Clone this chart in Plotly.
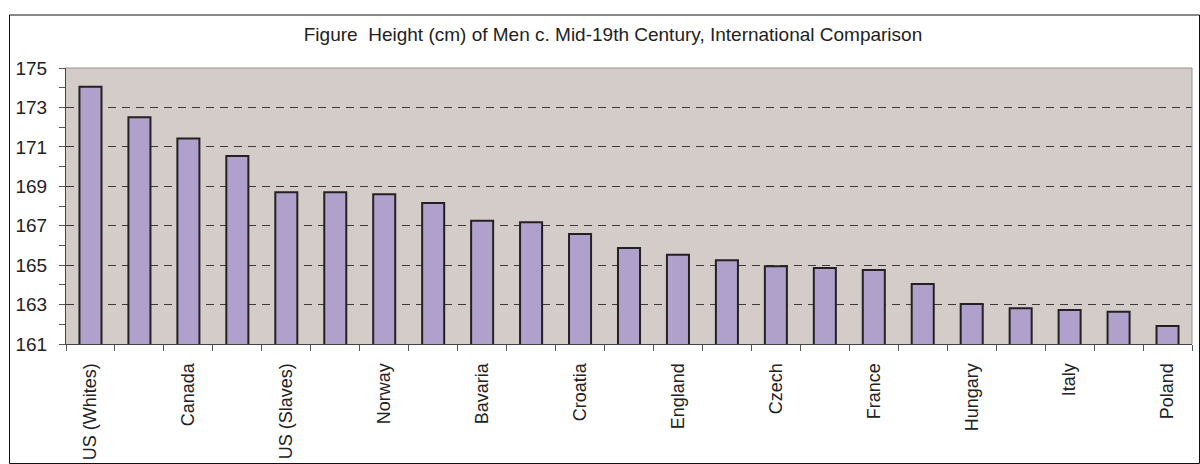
import plotly.graph_objects as go

categories = ["US (Whites)", "Unlabelled 2", "Canada", "Unlabelled 4", "US (Slaves)",
              "Unlabelled 6", "Norway", "Unlabelled 8", "Bavaria", "Unlabelled 10",
              "Croatia", "Unlabelled 12", "England", "Unlabelled 14", "Czech",
              "Unlabelled 16", "France", "Unlabelled 18", "Hungary", "Unlabelled 20",
              "Italy", "Unlabelled 22", "Poland"]
heights = [174.05, 172.5, 171.43, 170.53, 168.7, 168.7, 168.6, 168.15, 167.25, 167.17,
           166.58, 165.87, 165.53, 165.25, 164.95, 164.85, 164.75, 164.04, 163.03, 162.81,
           162.72, 162.64, 161.91]
tick_labels = ["US (Whites)", "", "Canada", "", "US (Slaves)", "", "Norway", "", "Bavaria", "",
               "Croatia", "", "England", "", "Czech", "", "France", "", "Hungary", "",
               "Italy", "", "Poland"]
y_ticks = [161, 163, 165, 167, 169, 171, 173, 175]
title_text = "Figure  Height (cm) of Men c. Mid-19th Century, International Comparison"

W, H = 1200, 464
L, R, T, B = 66, 8, 68, 120
pw, ph = W - L - R, H - T - B

fig = go.Figure(go.Bar(
    x=categories, y=heights,
    marker=dict(color="#b0a0cc", line=dict(color="#222222", width=2)),
    width=0.45,
))

def px_x(x):
    return (x - L) / pw

def px_y(y):
    return 1 - (y - T) / ph

fig.update_layout(
    width=W, height=H,
    margin=dict(l=L, r=R, t=T, b=B, autoexpand=False),
    paper_bgcolor="white",
    plot_bgcolor="#d3ccc9",
    font=dict(family="Liberation Sans, Arial, sans-serif", color="#222222"),
    showlegend=False,
    title=dict(text=title_text, x=613 / W, xanchor="center", y=1 - 34 / H, yanchor="middle",
               yref="container", font=dict(size=19, color="#222222")),
    xaxis=dict(
        type="category", tickmode="array", tickvals=categories, ticktext=tick_labels,
        tickangle=-90, tickson="boundaries", ticks="outside", ticklen=6, tickcolor="#555555",
        showline=True, linecolor="#444444", linewidth=1, showgrid=False,
        ticklabelstandoff=11,
        tickfont=dict(size=18, color="#222222"), range=[-0.5, len(categories) - 0.5],
    ),
    yaxis=dict(
        range=[161, 175], tickmode="array", tickvals=y_ticks, ticks="outside", ticklen=6,
        tickcolor="#555555", showline=True, linecolor="#444444", linewidth=1,
        showgrid=True, gridcolor="#3a3a3a", gridwidth=1, griddash="8px,6px",
        zeroline=False, tickfont=dict(size=19, color="#222222"), ticklabelstandoff=8,
        minor=dict(dtick=1, tick0=161, ticks="outside", ticklen=6, tickcolor="#555555", showgrid=False),
    ),
    shapes=[
        dict(type="line", xref="paper", yref="paper", x0=0, x1=1, y0=1, y1=1,
             line=dict(color="#9a9090", width=1), layer="above"),
        dict(type="line", xref="paper", yref="paper", x0=1, x1=1, y0=0, y1=1,
             line=dict(color="#9a9090", width=1), layer="above"),
        dict(type="rect", xref="paper", yref="paper",
             x0=px_x(9.5), x1=px_x(1199.5), y0=px_y(463.5), y1=px_y(15),
             line=dict(color="#111111", width=1), layer="above"),
    ],
)

fig.write_html("out.html", config={"displayModeBar": False},
               post_script="document.body.style.margin='0';")
